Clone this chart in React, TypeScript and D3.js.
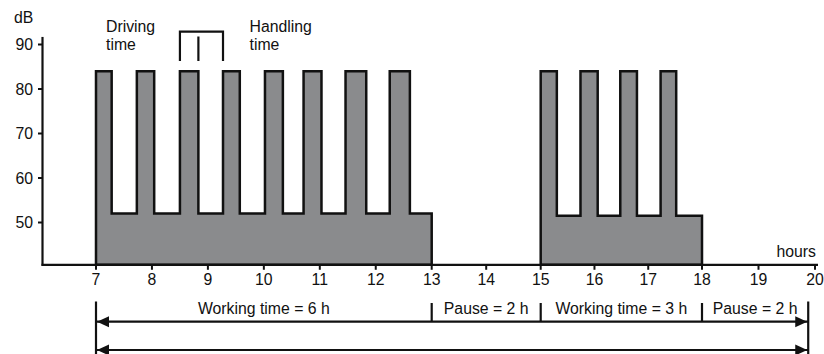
import React from "react";
import * as d3 from "d3";

// ---- data ----
const xTicks = [7, 8, 9, 10, 11, 12, 13, 14, 15, 16, 17, 18, 19, 20];
const yTicks = [50, 60, 70, 80, 90];
const highLevel = 84; // dB during driving
const block1Low = 52; // dB during handling, first shift
const block2Low = 51.5; // dB during handling, second shift
const block1Range = [7, 13];
const block2Range = [15, 18];
const block1Pulses: [number, number][] = [
  [7, 7.28], [7.73, 8.04], [8.5, 8.83], [9.27, 9.57],
  [10.02, 10.34], [10.71, 11.03], [11.46, 11.83], [12.25, 12.61],
];
const block2Pulses: [number, number][] = [
  [15, 15.3], [15.74, 16.06], [16.48, 16.79], [17.23, 17.52],
];
const segments = [
  { from: 7, to: 13, label: "Working time = 6 h" },
  { from: 13, to: 15, label: "Pause = 2 h" },
  { from: 15, to: 18, label: "Working time = 3 h" },
  { from: 18, to: 19.88, label: "Pause = 2 h" },
];
const bracketHours = [8.5, 8.83, 9.27];

const W = 824;
const H = 354;
const FONT = "'Liberation Sans', Arial, Helvetica, sans-serif";
const FS = 15.8;
const INK = "#111";
const FILL = "#8a8b8d";

const x = d3.scaleLinear().domain([7, 13, 15, 18, 20]).range([96, 431.7, 540.7, 702, 815]);
const y = d3.scaleLinear().domain([50, 90]).range([222.5, 44.5]);
const yBase = 40.5;
const yTop = 91.7;

function blockPoints(range: number[], pulses: [number, number][], low: number): [number, number][] {
  const pts: [number, number][] = [[range[0], yBase]];
  pulses.forEach(([s, e], i) => {
    if (i === 0) pts.push([s, highLevel]);
    else { pts.push([s, low]); pts.push([s, highLevel]); }
    pts.push([e, highLevel]);
    pts.push([e, low]);
  });
  pts.push([range[1], low]);
  pts.push([range[1], yBase]);
  return pts;
}

const line = d3.line<[number, number]>().x((d) => x(d[0])).y((d) => y(d[1]));

function arrowHead(tipX: number, yy: number, dir: number) {
  const len = 12, half = 5.5;
  return `M${tipX},${yy} L${tipX - dir * len},${yy - half} L${tipX - dir * len},${yy + half} Z`;
}

export default function App() {
  const axisY = y(yBase);
  const p1 = blockPoints(block1Range, block1Pulses, block1Low);
  const p2 = blockPoints(block2Range, block2Pulses, block2Low);
  const row1 = 321.7;
  const row2 = 350;
  const spanL = x(segments[0].from);
  const spanR = x(segments[segments.length - 1].to);
  return (
    <svg width={W} height={H} style={{ position: "absolute", left: 0, top: 0, background: "#fff" }}
      fontFamily={FONT} fontSize={FS} fill={INK}>
      {/* blocks */}
      {[p1, p2].map((p, i) => (
        <path key={i} d={line(p) + "Z"} fill={FILL} stroke={INK} strokeWidth={2.5} strokeLinejoin="miter" />
      ))}
      {/* y axis */}
      <line x1={42.5} x2={42.5} y1={y(yTop)} y2={axisY + 1} stroke={INK} strokeWidth={2.2} />
      {yTicks.map((t) => (
        <g key={t}>
          <line x1={38} x2={42.5} y1={y(t)} y2={y(t)} stroke={INK} strokeWidth={2} />
          <text x={33} y={y(t)} dy="0.36em" textAnchor="end">{t}</text>
        </g>
      ))}
      <text x={14} y={23}>dB</text>
      {/* x axis */}
      <line x1={41.5} x2={818} y1={axisY} y2={axisY} stroke={INK} strokeWidth={2.2} />
      {xTicks.map((t) => (
        <g key={t}>
          <line x1={x(t)} x2={x(t)} y1={axisY} y2={axisY + 5} stroke={INK} strokeWidth={2} />
          <text x={x(t)} y={285} textAnchor="middle">{t}</text>
        </g>
      ))}
      <text x={816} y={257} textAnchor="end">hours</text>
      {/* annotations */}
      <text x={106} y={31.5}>Driving</text>
      <text x={106} y={50}>time</text>
      <text x={249.5} y={31.5}>Handling</text>
      <text x={249.5} y={50}>time</text>
      <path d={`M${x(bracketHours[0])},61 V31.7 H${x(bracketHours[2])} V61`} fill="none" stroke={INK} strokeWidth={2.2} />
      <line x1={x(bracketHours[1])} x2={x(bracketHours[1])} y1={36.5} y2={61} stroke={INK} strokeWidth={2.2} />
      {/* spans */}
      <line x1={spanL} x2={spanL} y1={301.5} y2={H} stroke={INK} strokeWidth={2.2} />
      <line x1={spanR} x2={spanR} y1={301.5} y2={H} stroke={INK} strokeWidth={2.2} />
      {[row1, row2].map((r) => (
        <g key={r}>
          <line x1={spanL} x2={spanR} y1={r} y2={r} stroke={INK} strokeWidth={2.2} />
          <path d={arrowHead(spanL + 1, r, -1)} fill={INK} />
          <path d={arrowHead(spanR - 1, r, 1)} fill={INK} />
        </g>
      ))}
      {segments.slice(1).map((s) => (
        <line key={s.from} x1={x(s.from)} x2={x(s.from)} y1={303} y2={row1} stroke={INK} strokeWidth={2.2} />
      ))}
      {segments.map((s, i) => (
        <text key={i} x={(x(s.from) + x(s.to)) / 2} y={313.5} textAnchor="middle">{s.label}</text>
      ))}
    </svg>
  );
}
